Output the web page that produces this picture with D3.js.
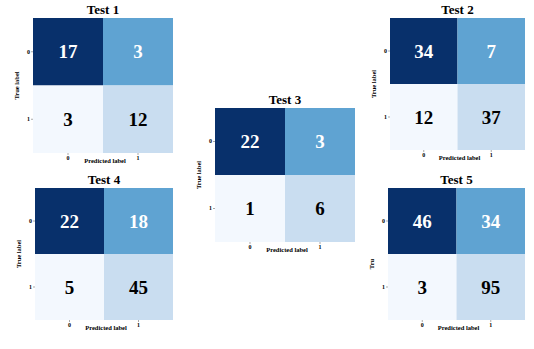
<!DOCTYPE html>
<html><head><meta charset="utf-8">
<script src="https://cdn.jsdelivr.net/npm/d3@7"></script>
<style>body{margin:0;background:#fff}svg{display:block}text{font-family:"Liberation Serif","Times New Roman",serif}</style>
</head><body>
<svg id="c" width="534" height="349"></svg>
<script>
const titles = ["Test 1", "Test 2", "Test 3", "Test 4", "Test 5"];
const classLabels = ["0", "1"];
// cells in order: [true0-pred0, true0-pred1, true1-pred0, true1-pred1]
const values = [
  [17, 3, 3, 12],
  [34, 7, 12, 37],
  [22, 3, 1, 6],
  [22, 18, 5, 45],
  [46, 34, 3, 95]
];
const yAxisLabels = ["True label", "True label", "True label", "True label", "Tru"];
const xAxisLabel = "Predicted label";
const cellColors = ["#08306b", "#5fa3d2", "#f3f8fe", "#c9ddf0"];
const textColors = ["#ffffff", "#ffffff", "#000000", "#000000"];

const layout = [
  {x0: 33, x1: 173, y0: 18, y1: 153},
  {x0: 390, x1: 525, y0: 18, y1: 150},
  {x0: 215, x1: 355, y0: 108, y1: 242},
  {x0: 35, x1: 173, y0: 188, y1: 320},
  {x0: 388, x1: 525, y0: 188, y1: 320}
];

const svg = d3.select("#c");

titles.forEach((t, i) => {
  const L = layout[i];
  const g = svg.append("g");
  const x = d3.scaleBand().domain(classLabels).range([L.x0, L.x1]);
  const y = d3.scaleBand().domain(classLabels).range([L.y0, L.y1]);
  const cells = [];
  classLabels.forEach((r, ri) => classLabels.forEach((c, ci) => {
    cells.push({r, c, k: ri * 2 + ci, v: values[i][ri * 2 + ci]});
  }));
  g.selectAll("rect").data(cells).join("rect")
    .attr("x", d => x(d.c)).attr("y", d => y(d.r))
    .attr("width", x.bandwidth()).attr("height", y.bandwidth())
    .attr("fill", d => cellColors[d.k]);
  g.selectAll("text.v").data(cells).join("text").attr("class", "v")
    .attr("x", d => x(d.c) + x.bandwidth() / 2)
    .attr("y", d => y(d.r) + y.bandwidth() / 2)
    .attr("dy", "0.35em")
    .attr("text-anchor", "middle")
    .attr("font-size", 19).attr("font-weight", "bold")
    .attr("fill", d => textColors[d.k])
    .text(d => d.v);
  // title
  g.append("text").attr("x", (L.x0 + L.x1) / 2).attr("y", L.y0 - 4)
    .attr("text-anchor", "middle").attr("font-size", 13).attr("font-weight", "bold")
    .text(t);
  // axes
  const ax = g.append("g").attr("transform", `translate(0,${L.y1})`)
    .call(d3.axisBottom(x).tickSize(2).tickPadding(1));
  const ay = g.append("g").attr("transform", `translate(${L.x0},0)`)
    .call(d3.axisLeft(y).tickSize(2).tickPadding(1));
  [ax, ay].forEach(a => {
    a.select(".domain").remove();
    a.selectAll("text").attr("font-size", 6).attr("font-weight", "bold")
      .attr("font-family", "Liberation Serif");
    a.selectAll("line").attr("stroke", "#555").attr("stroke-width", 0.5);
  });
  g.append("text").attr("x", (L.x0 + L.x1) / 2 + 2).attr("y", L.y1 + 10)
    .attr("text-anchor", "middle").attr("font-size", 6.5).attr("font-weight", "bold")
    .text(xAxisLabel);
  g.append("text")
    .attr("transform", `translate(${L.x0 - 14},${(L.y0 + L.y1) / 2 + (i === 4 ? 10 : 0)}) rotate(-90)`)
    .attr("text-anchor", "middle").attr("font-size", 6.5).attr("font-weight", "bold")
    .text(yAxisLabels[i]);
});
</script>
</body></html>
